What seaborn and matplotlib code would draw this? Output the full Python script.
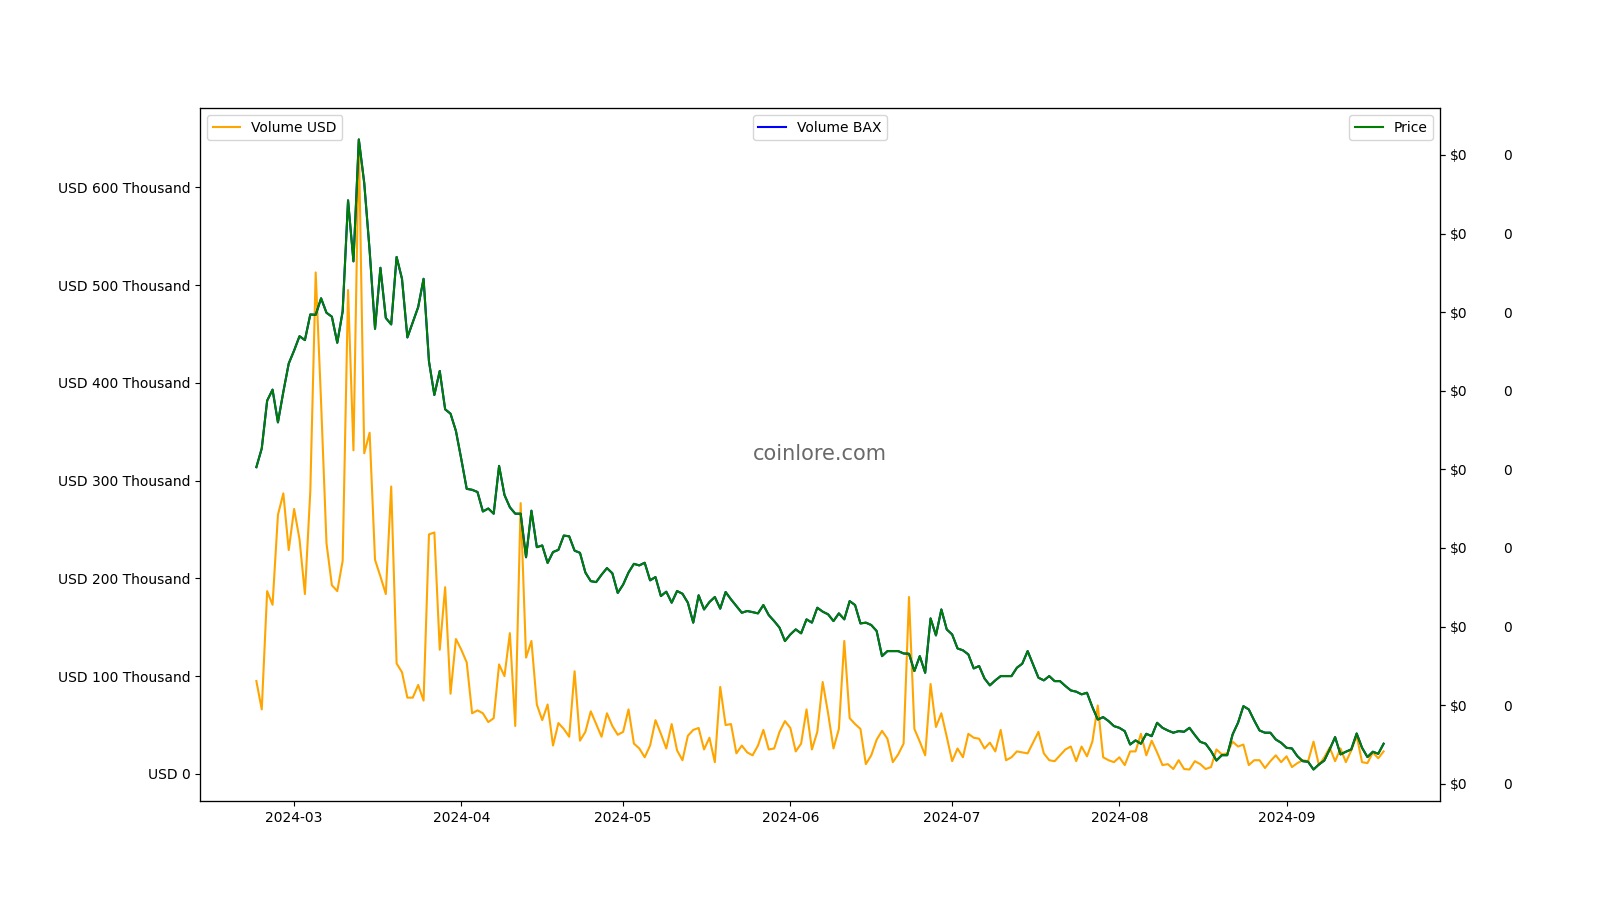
import numpy as np
import pandas as pd
import matplotlib
matplotlib.use("Agg")
import matplotlib.pyplot as plt
import seaborn as sns
from matplotlib.ticker import FuncFormatter

# daily values, starting 2024-02-23
start_date = "2024-02-23"

# volume in USD, thousands
volume_usd_k = [
    95, 66, 187, 173, 265, 287, 229, 271, 240, 184, 289, 513, 380, 236, 193, 187, 218, 495,
    331, 649, 328, 349, 219, 202, 184, 294, 113, 104, 78, 78, 91, 75, 245, 247, 127, 191,
    82, 138, 127, 114, 62, 65, 62, 53, 57, 112, 100, 144, 49, 277, 119, 136, 71, 55,
    71, 29, 52, 46, 38, 105, 34, 43, 64, 51, 38, 62, 49, 40, 43, 66, 31,
    26, 17, 29, 55, 41, 26, 51, 24, 14, 39, 45, 47, 25, 37, 12, 89, 50, 51,
    21, 29, 22, 19, 29, 45, 25, 26, 43, 54, 47, 23, 31, 66, 25, 43, 94,
    62, 26, 46, 136, 57, 51, 46, 10, 19, 35, 44, 36, 12, 20, 31, 181, 46, 33,
    19, 92, 48, 62, 38, 13, 26, 17, 41, 37, 36, 26, 32, 23, 45, 14, 17,
    23, 22, 21, 32, 43, 21, 14, 13, 19, 25, 28, 13, 28, 18, 33, 70, 17, 14,
    12, 17, 9, 23, 23, 41, 19, 34, 22, 9, 10, 5, 14, 5, 4.5, 13, 10, 5,
    7, 25, 20, 21, 33, 28, 30, 9, 14, 14, 6, 13, 19, 12, 18, 7, 11, 14,
    13, 33, 9, 17, 27, 13, 26, 12, 24, 39, 12, 11, 22, 16, 23,
]

# price in millionths of a dollar
price_micro = [
    30.14, 31.33, 34.37, 35.07, 32.99, 34.93, 36.73, 37.56, 38.47, 38.22, 39.85, 39.83,
    40.88, 39.96, 39.71, 38.05, 40.05, 47.11, 43.23, 50.98, 48.21, 43.92, 38.94, 42.82,
    39.63, 39.22, 43.51, 42.12, 38.39, 39.36, 40.32, 42.12, 36.87, 34.73, 36.26, 33.82,
    33.54, 32.44, 30.64, 28.76, 28.70, 28.56, 27.32, 27.51, 27.18, 30.22, 28.37, 27.59,
    27.18, 27.18, 24.41, 27.37, 25.05, 25.16, 24.05, 24.74, 24.88, 25.79, 25.74, 24.83,
    24.69, 23.44, 22.89, 22.83, 23.30, 23.72, 23.39, 22.14, 22.67, 23.44, 23.99,
    23.89, 24.06, 22.94, 23.15, 21.94, 22.22, 21.52, 22.26, 22.09, 21.52, 20.25, 21.99,
    21.09, 21.56, 21.88, 21.14, 22.20, 21.73, 21.31, 20.88, 20.99, 20.92, 20.84, 21.37,
    20.73, 20.35, 19.93, 19.08, 19.50, 19.82, 19.57, 20.46, 20.25, 21.20, 20.95,
    20.78, 20.35, 20.84, 20.46, 21.62, 21.37, 20.20, 20.25, 20.10, 19.72, 18.12, 18.44,
    18.44, 18.44, 18.29, 18.27, 17.17, 18.12, 17.06, 20.52, 19.44, 21.09, 19.82, 19.50,
    18.61, 18.49, 18.23, 17.34, 17.49, 16.70, 16.26, 16.58, 16.85, 16.85, 16.85,
    17.38, 17.64, 18.44, 17.59, 16.75, 16.58, 16.85, 16.53, 16.53, 16.22, 15.94, 15.86,
    15.69, 15.79, 14.88, 14.09, 14.24, 13.99, 13.67, 13.56, 13.35, 12.50, 12.76, 12.55,
    13.18, 13.03, 13.88, 13.56, 13.39, 13.25, 13.35, 13.31, 13.56, 13.10, 12.67, 12.55,
    12.08, 11.48, 11.82, 11.82, 13.14, 13.88, 14.94, 14.73, 14.03, 13.39, 13.25, 13.25,
    12.82, 12.61, 12.29, 12.25, 11.76, 11.44, 11.40, 10.91, 11.23, 11.48, 12.19, 12.97,
    11.87, 12.04, 12.19, 13.20, 12.29, 11.70, 12.04, 11.91, 12.55,
]

# the BAX volume line sits exactly under the price line in the original
volume_bax_micro = price_micro

dates = pd.date_range(start_date, periods=len(volume_usd_k), freq="D")
data = pd.DataFrame({
    "date": dates,
    "volume_usd": np.array(volume_usd_k) * 1000,
    "price": np.array(price_micro) * 1e-6,
    "volume_bax": np.array(volume_bax_micro) * 1e-6,
})

fig, ax = plt.subplots(figsize=(16, 9), dpi=100)
ax3 = ax.twinx()
ax2 = ax.twinx()

sns.lineplot(x="date", y="volume_usd", data=data, ax=ax, color="orange", label="Volume USD")
sns.lineplot(x="date", y="volume_bax", data=data, ax=ax3, color="blue", label="Volume BAX")
sns.lineplot(x="date", y="price", data=data, ax=ax2, color="green", label="Price")

for a in (ax, ax2, ax3):
    a.set_xlabel("")
    a.set_ylabel("")

ax.yaxis.set_major_formatter(FuncFormatter(
    lambda v, _: "USD 0" if v == 0 else f"USD {v / 1000:.0f} Thousand"))
ax2.yaxis.set_major_formatter(FuncFormatter(lambda v, _: f"${v:,.0f}"))
ax3.yaxis.set_major_formatter(FuncFormatter(lambda v, _: f"{v:,.0f}"))
ax3.tick_params(axis="y", pad=42)

ax.legend(loc="upper left")
ax3.legend(loc="upper center")
ax2.legend(loc="upper right")

ax.text(0.5, 0.5, "coinlore.com", transform=ax.transAxes, ha="center", va="center",
        fontsize=15, color="dimgray")

fig.savefig("out.png", dpi=100)
